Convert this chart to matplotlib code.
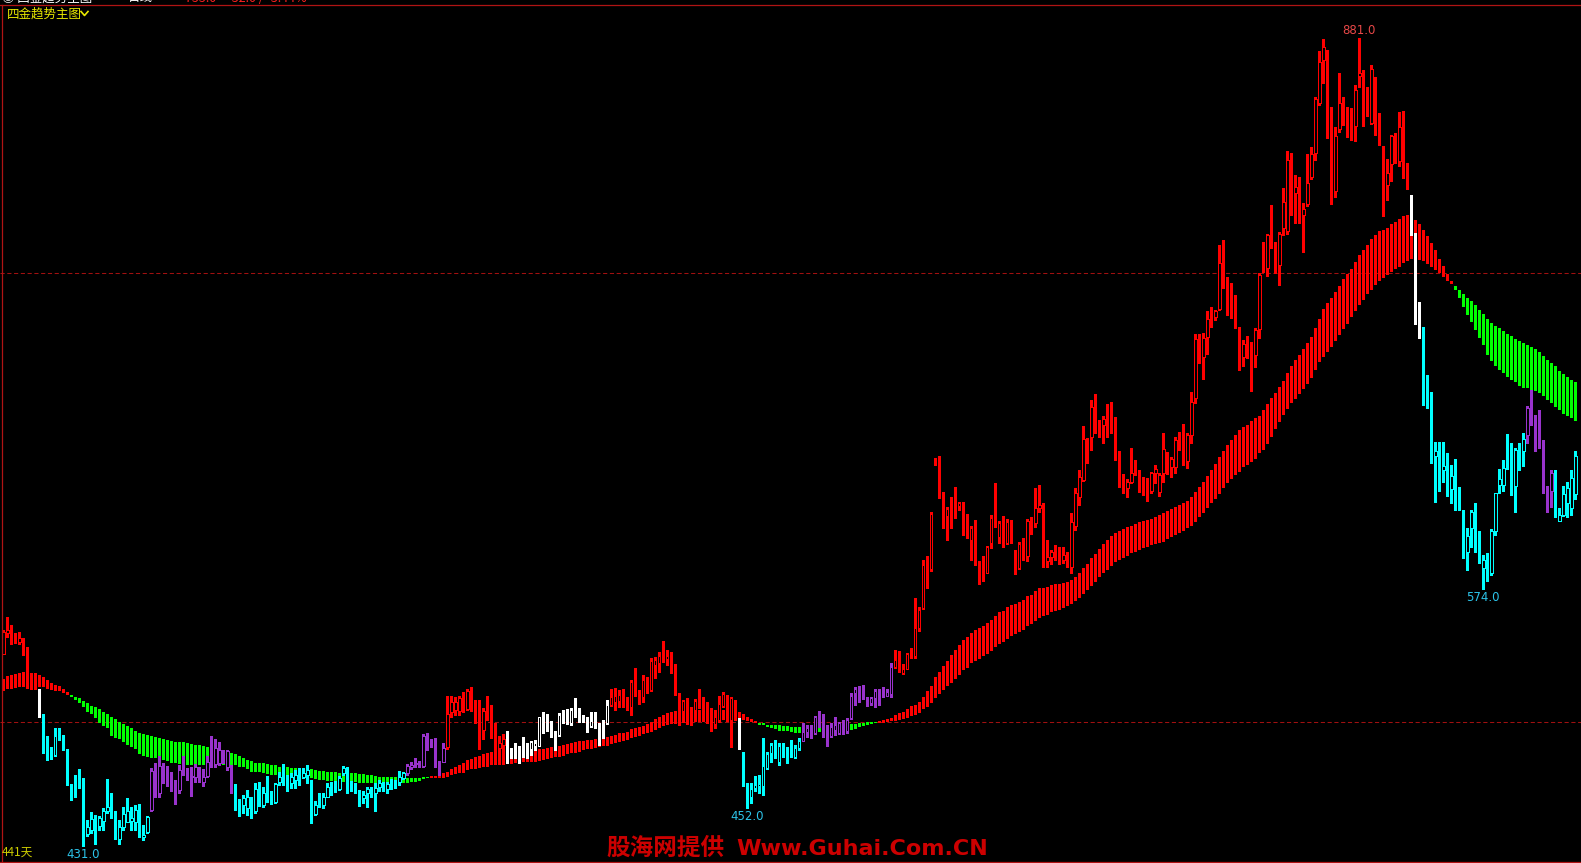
import numpy as np
import matplotlib
matplotlib.use("Agg")
import matplotlib.pyplot as plt
from matplotlib.lines import Line2D

# ---------------- data (price units, one entry per trading day) ----------------
opens = [
 537.6, 549.7, 551.2, 548.4, 544.7, 544.7, 540.1, 524.3, 521.5, 517.2,
 500.5, 489.4, 481.0, 481.6, 492.7, 492.2, 484.4, 465.4, 464.5, 467.7,
 465.4, 437.6, 439.8, 445.4, 442.1, 445.0, 450.6, 454.3, 449.1, 434.6,
 441.7, 444.1, 444.7, 444.3, 451.0, 435.6, 438.9, 451.0, 472.7, 460.2,
 472.1, 469.0, 466.6, 464.3, 462.1, 474.0, 472.9, 469.0, 469.5, 473.6,
 466.6, 469.9, 486.6, 476.6, 477.3, 482.9, 475.1, 475.5, 462.1, 456.5,
 453.8, 451.9, 457.5, 450.6, 462.1, 453.9, 460.8, 458.8, 455.1, 466.7,
 469.5, 468.0, 466.1, 467.6, 471.3, 469.4, 470.4, 467.6, 448.6, 454.0,
 453.9, 458.3, 464.3, 462.4, 462.4, 471.3, 474.4, 464.6, 464.2, 460.2,
 457.6, 460.2, 462.8, 460.2, 463.5, 465.7, 462.4, 465.4, 465.0, 466.7,
 468.5, 471.3, 475.0, 476.7, 476.9, 475.4, 493.6, 489.6, 489.3, 477.0,
 477.8, 486.1, 505.6, 506.6, 506.2, 513.6, 506.9, 517.1, 508.8, 503.8,
 495.4, 507.9, 508.4, 493.9, 485.2, 487.1, 490.8, 485.2, 484.3, 485.0,
 486.1, 485.4, 484.7, 486.5, 486.5, 502.1, 498.8, 498.0, 492.6, 492.6,
 504.3, 502.5, 499.2, 507.5, 504.4, 502.7, 501.0, 497.7, 500.5, 497.7,
 498.8, 499.5, 509.4, 511.2, 511.8, 515.5, 509.4, 508.1, 523.3, 514.9,
 513.6, 524.0, 517.7, 531.6, 532.6, 537.2, 535.0, 538.9, 531.1, 515.5,
 506.2, 512.5, 507.5, 506.6, 512.5, 512.2, 508.8, 506.6, 498.8, 501.0,
 508.8, 514.4, 501.0, 511.2, 501.4, 483.0, 458.3, 458.0, 462.9, 464.2,
 464.2, 474.1, 482.8, 488.9, 477.8, 485.8, 483.9, 484.3, 480.6, 485.2,
 489.5, 494.5, 496.4, 493.9, 502.8, 503.2, 497.7, 492.1, 495.4, 493.9,
 500.4, 495.0, 501.9, 516.2, 518.6, 516.4, 512.5, 510.3, 513.0, 517.7,
 514.9, 514.3, 515.6, 530.8, 534.5, 527.1, 529.7, 538.2, 536.4, 552.1,
 563.3, 590.6, 585.0, 645.9, 641.2, 625.8, 614.7, 619.0, 618.6, 620.3,
 620.3, 610.2, 601.3, 609.1, 587.9, 583.7, 583.1, 599.8, 616.5, 603.2,
 610.6, 599.5, 611.9, 592.4, 585.5, 600.8, 592.4, 611.5, 610.6, 619.0,
 621.7, 589.8, 592.0, 598.0, 595.7, 590.2, 593.0, 586.5, 609.1, 625.4,
 634.7, 656.1, 658.8, 677.0, 667.2, 665.3, 674.1, 672.4, 664.8, 648.1,
 636.9, 630.1, 633.8, 640.7, 639.4, 630.1, 628.6, 628.8, 638.8, 628.2,
 638.8, 649.9, 641.8, 642.1, 656.1, 651.8, 645.5, 659.8, 680.2, 712.0,
 703.4, 714.2, 725.0, 725.7, 729.8, 756.7, 747.0, 743.3, 729.4, 718.6,
 703.4, 710.9, 710.9, 704.3, 718.6, 757.2, 752.6, 776.2, 766.5, 754.4,
 774.9, 773.6, 810.1, 794.4, 797.1, 782.3, 788.4, 803.3, 817.0, 844.8,
 868.6, 874.2, 836.7, 795.8, 830.0, 846.7, 841.7, 831.9, 831.9, 859.6,
 851.9, 849.7, 833.7, 858.4, 827.4, 819.4, 799.0, 810.7, 825.0, 812.5,
 829.6, 809.0, 790.7, 757.8, 723.3, 710.8, 683.7, 679.7, 648.1, 650.9,
 640.0, 641.3, 629.6, 639.0, 628.4, 617.5, 594.8, 607.8, 613.4, 598.0,
 585.6, 590.2, 582.8, 606.0, 632.0, 632.0, 645.3, 644.0, 631.4, 651.8,
 651.1, 659.8, 682.1, 666.9, 659.8, 653.7, 627.7, 628.3, 638.5, 612.1,
 615.3, 621.8, 619.0, 627.0]

highs = [
 551.0, 558.6, 554.0, 549.3, 549.9, 546.6, 541.9, 526.1, 522.4, 518.2,
 504.4, 492.2, 486.2, 496.4, 496.4, 492.7, 484.9, 465.4, 470.5, 473.8,
 468.6, 445.4, 450.0, 448.2, 447.3, 451.9, 468.2, 460.6, 450.4, 445.4,
 452.4, 457.5, 452.8, 453.6, 454.3, 442.6, 447.6, 474.2, 477.3, 481.0,
 477.3, 475.5, 471.8, 467.7, 476.0, 480.7, 474.2, 475.1, 476.6, 475.1,
 473.6, 480.7, 492.2, 490.3, 488.5, 484.4, 484.4, 476.0, 465.4, 456.9,
 459.3, 462.1, 458.0, 466.2, 466.7, 463.6, 469.9, 461.2, 465.8, 471.8,
 476.6, 470.5, 471.3, 473.2, 474.1, 474.1, 475.9, 467.6, 456.1, 460.5,
 460.2, 465.7, 466.6, 467.2, 469.8, 475.4, 475.0, 467.2, 465.7, 462.0,
 461.6, 463.9, 463.9, 466.1, 467.6, 466.6, 466.6, 468.0, 467.6, 472.6,
 472.2, 476.5, 477.8, 479.8, 478.2, 493.2, 493.9, 490.6, 490.8, 478.2,
 488.4, 514.4, 514.4, 514.0, 514.4, 516.6, 518.1, 519.2, 512.1, 512.1,
 507.5, 514.4, 509.3, 499.5, 492.1, 493.2, 495.0, 485.6, 488.4, 486.5,
 491.3, 488.0, 489.5, 489.9, 502.8, 505.6, 504.3, 500.6, 495.0, 505.1,
 506.6, 506.9, 507.9, 513.1, 507.5, 503.8, 502.9, 505.7, 505.7, 499.2,
 501.0, 512.1, 518.1, 518.6, 517.7, 518.1, 514.0, 523.3, 529.8, 517.7,
 526.1, 525.1, 535.4, 536.3, 539.1, 545.2, 540.0, 539.1, 532.2, 515.9,
 512.2, 513.1, 508.1, 512.5, 518.3, 514.0, 511.2, 507.5, 503.8, 514.4,
 516.8, 514.9, 514.0, 512.1, 502.0, 483.4, 466.1, 465.7, 469.8, 470.4,
 490.8, 483.4, 488.0, 489.9, 488.0, 488.0, 485.8, 489.9, 487.1, 490.8,
 499.1, 498.2, 498.2, 503.2, 506.2, 504.3, 498.2, 499.1, 502.5, 500.1,
 501.0, 501.9, 515.8, 519.6, 519.9, 520.5, 513.6, 514.0, 518.1, 518.1,
 519.2, 518.1, 532.6, 540.1, 539.5, 532.3, 538.2, 541.0, 568.8, 564.2,
 590.2, 592.4, 617.1, 646.8, 648.1, 628.2, 619.9, 625.4, 631.0, 622.7,
 622.7, 615.8, 609.1, 612.5, 589.8, 592.4, 598.0, 615.2, 633.2, 612.1,
 614.7, 612.8, 612.5, 595.7, 600.4, 602.2, 612.8, 613.9, 630.1, 631.9,
 622.1, 601.3, 595.7, 598.5, 597.2, 597.2, 594.8, 616.2, 630.1, 640.3,
 664.8, 657.9, 679.3, 682.6, 668.1, 670.4, 677.0, 678.3, 669.6, 651.1,
 638.1, 635.1, 652.4, 645.9, 640.3, 636.6, 635.6, 639.4, 643.1, 638.4,
 660.7, 650.5, 647.7, 658.8, 661.6, 665.9, 660.7, 683.9, 716.0, 716.0,
 716.4, 729.0, 730.9, 729.4, 765.6, 768.4, 747.6, 744.2, 737.7, 720.1,
 712.7, 714.9, 711.8, 719.2, 749.8, 767.4, 771.7, 787.9, 767.4, 773.0,
 797.1, 818.1, 816.6, 804.6, 803.6, 789.2, 816.3, 820.3, 848.2, 873.8,
 880.1, 874.2, 842.6, 831.5, 861.2, 848.2, 842.6, 841.7, 854.7, 881.0,
 863.0, 853.7, 865.8, 859.3, 838.9, 820.7, 813.3, 826.8, 827.8, 839.8,
 840.1, 811.0, 793.5, 772.1, 733.7, 719.8, 693.0, 683.7, 655.9, 655.9,
 655.9, 649.6, 642.9, 646.2, 630.7, 618.1, 607.8, 618.1, 621.8, 606.0,
 593.0, 593.9, 607.3, 627.7, 640.7, 645.9, 660.4, 655.2, 652.4, 655.2,
 660.7, 676.0, 684.9, 671.0, 673.7, 657.0, 631.4, 640.3, 640.3, 619.0,
 631.4, 633.8, 640.0, 651.0]

lows = [
 537.6, 547.1, 543.2, 543.7, 543.2, 537.3, 518.7, 518.2, 518.5, 502.9,
 482.9, 478.8, 479.2, 480.7, 490.0, 484.4, 464.9, 456.5, 458.4, 463.0,
 431.0, 436.5, 438.0, 432.0, 439.5, 439.8, 449.1, 446.3, 434.6, 432.0,
 439.8, 444.1, 439.8, 439.8, 435.6, 434.3, 438.3, 450.6, 458.4, 458.4,
 465.8, 464.0, 461.2, 454.3, 460.2, 470.5, 467.7, 458.8, 466.7, 466.7,
 464.0, 469.2, 475.1, 475.1, 476.0, 477.0, 473.2, 460.6, 451.0, 447.6,
 449.1, 448.2, 446.3, 449.1, 453.2, 452.8, 455.6, 454.3, 454.7, 464.9,
 464.9, 461.7, 462.9, 462.9, 464.8, 468.5, 466.1, 443.5, 448.1, 452.7,
 451.8, 457.9, 459.2, 460.9, 462.0, 470.4, 460.5, 461.6, 460.2, 453.1,
 454.9, 452.7, 458.3, 450.5, 461.6, 461.6, 460.2, 462.4, 462.9, 465.0,
 468.0, 470.4, 473.5, 475.0, 474.6, 474.6, 484.3, 486.1, 474.6, 470.4,
 477.6, 484.7, 502.8, 503.8, 503.8, 505.6, 506.6, 506.2, 499.5, 484.7,
 490.6, 501.0, 490.8, 482.8, 483.4, 483.4, 477.2, 480.0, 479.6, 476.9,
 480.6, 479.6, 481.5, 484.3, 486.5, 493.9, 495.0, 491.3, 484.3, 492.1,
 499.5, 498.8, 498.2, 502.9, 500.1, 500.1, 494.5, 496.9, 496.4, 487.1,
 490.8, 498.8, 508.8, 506.6, 508.1, 508.1, 506.6, 503.8, 514.4, 509.9,
 511.2, 515.9, 517.2, 524.2, 527.9, 533.5, 531.6, 527.0, 514.9, 498.2,
 501.0, 498.8, 498.2, 501.0, 507.5, 501.0, 499.5, 495.1, 496.4, 500.1,
 508.1, 500.6, 486.2, 501.0, 484.9, 464.5, 452.0, 454.6, 461.6, 460.2,
 459.2, 473.5, 477.8, 479.6, 475.9, 480.6, 477.2, 480.6, 479.6, 484.3,
 489.5, 491.7, 490.8, 493.2, 497.3, 491.7, 486.5, 491.7, 492.6, 493.2,
 493.2, 493.6, 501.4, 509.3, 511.2, 512.5, 508.8, 509.3, 508.4, 509.3,
 513.6, 514.3, 514.1, 529.9, 528.0, 526.7, 529.3, 535.4, 535.4, 550.8,
 562.7, 574.4, 584.2, 643.1, 624.5, 607.8, 601.3, 607.8, 613.4, 618.0,
 604.1, 602.2, 590.2, 587.4, 576.8, 578.7, 582.8, 596.7, 608.4, 599.8,
 597.6, 599.1, 599.8, 582.4, 585.0, 590.2, 589.3, 604.7, 608.4, 617.1,
 586.1, 586.5, 588.0, 590.2, 588.0, 588.3, 586.5, 582.8, 606.9, 620.8,
 634.4, 644.0, 651.4, 661.1, 658.8, 655.5, 658.8, 660.7, 645.9, 630.6,
 627.7, 625.4, 632.9, 637.5, 628.2, 626.4, 623.2, 627.3, 632.9, 625.8,
 633.8, 638.1, 636.2, 638.8, 651.4, 643.1, 641.2, 655.5, 677.8, 700.0,
 690.8, 704.9, 719.7, 723.8, 729.4, 741.5, 726.6, 724.8, 719.2, 696.0,
 698.2, 702.5, 684.5, 697.8, 713.6, 750.7, 748.3, 763.7, 749.8, 743.3,
 771.2, 771.7, 782.3, 777.7, 777.7, 761.9, 787.3, 802.1, 812.9, 843.5,
 855.6, 825.0, 788.4, 792.5, 828.7, 832.4, 825.5, 824.0, 823.7, 853.7,
 831.9, 837.4, 833.0, 826.8, 821.3, 781.7, 790.6, 801.4, 811.4, 809.6,
 803.0, 796.5, 771.2, 721.6, 713.5, 676.5, 674.8, 644.4, 622.7, 628.3,
 633.8, 625.5, 622.1, 617.7, 618.1, 591.1, 584.6, 597.1, 594.8, 588.7,
 574.0, 578.2, 581.9, 604.1, 627.7, 628.3, 640.7, 626.4, 617.1, 640.3,
 642.6, 655.2, 665.4, 651.1, 652.4, 627.7, 617.1, 619.9, 614.0, 611.6,
 614.7, 614.3, 615.0, 624.0]

closes = [
 550.3, 551.2, 548.0, 545.3, 546.6, 541.0, 519.3, 519.6, 519.3, 502.9,
 485.7, 480.7, 480.1, 492.2, 491.8, 484.9, 464.9, 461.5, 464.0, 466.6,
 439.5, 441.3, 446.0, 442.1, 446.5, 450.6, 452.5, 449.1, 435.2, 441.3,
 448.7, 450.4, 446.5, 451.0, 435.6, 437.1, 447.1, 472.7, 459.3, 475.5,
 468.4, 466.2, 464.5, 459.3, 473.2, 472.5, 469.9, 469.9, 475.1, 469.0,
 469.5, 477.9, 476.0, 485.3, 484.4, 479.2, 484.0, 462.1, 453.8, 454.3,
 457.6, 458.4, 451.4, 462.5, 453.8, 460.6, 458.4, 454.7, 465.4, 469.1,
 466.7, 464.9, 469.1, 470.4, 469.4, 471.3, 473.2, 450.0, 453.5, 453.7,
 458.3, 463.5, 462.4, 461.1, 468.5, 474.4, 463.5, 463.7, 462.0, 456.4,
 459.4, 462.4, 459.0, 463.1, 466.1, 462.0, 465.4, 463.0, 464.2, 469.1,
 471.3, 475.4, 476.1, 477.3, 475.4, 492.1, 488.4, 488.4, 475.9, 475.9,
 485.2, 504.1, 510.8, 511.0, 513.1, 506.6, 517.1, 506.6, 503.8, 494.5,
 506.0, 506.6, 494.5, 485.2, 488.0, 490.2, 483.9, 484.7, 483.7, 483.9,
 485.0, 484.7, 488.9, 488.4, 502.5, 498.0, 497.3, 492.1, 492.1, 503.8,
 501.0, 499.1, 506.6, 504.2, 501.6, 501.2, 496.4, 500.5, 497.3, 495.4,
 497.7, 509.4, 514.0, 514.4, 514.9, 508.8, 507.0, 522.4, 515.5, 512.7,
 523.3, 516.8, 534.1, 534.4, 536.7, 534.8, 536.6, 530.3, 515.5, 498.8,
 511.6, 499.2, 499.2, 511.6, 511.8, 508.1, 500.1, 500.1, 502.9, 509.9,
 515.5, 501.4, 513.1, 501.4, 484.9, 464.5, 457.0, 462.4, 464.8, 465.4,
 475.4, 481.9, 487.1, 480.6, 486.5, 482.8, 483.0, 480.9, 485.2, 489.3,
 494.5, 496.4, 492.6, 502.5, 502.5, 495.4, 491.3, 497.3, 498.2, 499.1,
 493.9, 501.0, 514.4, 518.1, 516.8, 513.1, 509.9, 513.4, 517.1, 514.9,
 514.0, 516.8, 530.4, 534.5, 528.6, 529.3, 537.7, 535.8, 552.1, 562.3,
 587.4, 586.1, 615.8, 644.0, 625.1, 614.3, 618.8, 614.3, 617.6, 622.1,
 609.7, 605.0, 607.8, 587.9, 582.8, 581.3, 597.2, 613.4, 608.7, 610.6,
 598.0, 611.5, 600.4, 584.6, 599.1, 590.6, 611.9, 611.0, 619.0, 620.8,
 586.8, 591.7, 594.6, 591.1, 588.3, 593.0, 586.8, 611.5, 627.3, 636.4,
 657.4, 651.8, 675.5, 666.3, 664.8, 668.5, 668.5, 665.3, 645.9, 634.4,
 631.4, 633.8, 638.8, 639.9, 630.1, 626.4, 627.3, 638.8, 640.7, 637.5,
 651.8, 644.0, 646.2, 657.0, 655.1, 644.9, 659.8, 678.3, 713.0, 704.3,
 713.6, 724.2, 724.2, 728.8, 755.4, 751.3, 742.4, 731.2, 719.7, 700.1,
 710.5, 710.2, 701.9, 718.3, 748.9, 753.1, 771.2, 773.0, 756.3, 771.7,
 789.7, 812.9, 801.8, 797.7, 781.4, 785.4, 800.3, 816.3, 846.7, 867.7,
 875.6, 834.8, 796.6, 826.3, 844.5, 843.5, 826.8, 831.5, 851.9, 861.6,
 848.5, 843.0, 863.4, 827.4, 823.7, 799.9, 805.9, 826.3, 812.9, 831.1,
 806.0, 798.1, 781.8, 721.6, 715.5, 681.5, 678.9, 653.7, 650.9, 636.6,
 642.6, 628.3, 637.0, 625.9, 618.4, 596.7, 603.6, 616.7, 597.1, 588.7,
 590.2, 581.3, 606.4, 627.3, 635.1, 641.3, 644.4, 626.4, 651.5, 651.1,
 657.4, 674.7, 665.9, 659.8, 655.2, 631.0, 626.4, 638.8, 614.3, 615.3,
 627.0, 630.1, 636.0, 648.0]

# trend ribbon (upper / lower band of the indicator)
ribbon_upper = [
 523.9, 525.4, 526.1, 526.7, 527.1, 527.8, 527.4, 527.4, 527.1, 526.1,
 524.8, 523.3, 521.5, 520.6, 520.0, 518.3, 516.7, 515.0, 513.9, 513.5,
 511.7, 510.5, 508.9, 508.1, 507.0, 505.5, 504.4, 502.9, 501.5, 500.1,
 498.9, 497.7, 496.4, 495.1, 493.7, 493.3, 492.5, 492.2, 491.6, 490.9,
 490.3, 489.8, 489.4, 489.0, 488.8, 488.5, 488.1, 487.7, 487.3, 487.0,
 486.6, 486.2, 485.9, 485.5, 485.1, 484.4, 483.4, 482.9, 482.2, 481.0,
 479.7, 478.8, 478.1, 477.3, 477.3, 477.0, 476.6, 476.0, 475.7, 475.1,
 474.7, 474.7, 474.4, 474.4, 474.4, 474.4, 474.1, 473.7, 473.2, 472.8,
 472.6, 472.2, 472.0, 471.9, 471.7, 471.3, 471.3, 471.3, 471.3, 471.1,
 470.7, 470.4, 470.2, 469.8, 469.4, 469.4, 469.2, 469.1, 469.1, 468.9,
 468.7, 468.7, 468.7, 468.9, 468.9, 469.4, 469.4, 469.8, 470.0, 470.4,
 471.3, 472.2, 473.5, 475.0, 475.9, 477.2, 478.7, 479.5, 480.2, 480.9,
 482.1, 482.8, 483.2, 483.2, 483.5, 483.7, 483.7, 483.9, 483.9, 483.9,
 483.9, 483.9, 483.9, 484.3, 484.7, 485.0, 485.4, 485.8, 486.1, 486.5,
 487.2, 487.8, 488.4, 488.8, 489.1, 489.5, 489.9, 489.9, 490.3, 490.4,
 490.8, 491.4, 492.1, 492.7, 493.6, 494.0, 494.5, 495.8, 496.4, 496.9,
 497.7, 498.8, 500.1, 501.4, 502.5, 503.8, 504.7, 505.7, 506.2, 506.6,
 506.6, 506.6, 506.6, 506.6, 506.6, 506.6, 506.6, 506.6, 506.6, 506.6,
 506.6, 506.6, 506.2, 506.2, 505.7, 504.6, 502.9, 501.7, 500.2, 499.5,
 499.1, 498.4, 498.2, 498.2, 498.0, 497.8, 497.7, 497.3, 497.3, 497.3,
 497.3, 497.3, 497.3, 497.7, 498.0, 498.2, 498.2, 498.2, 498.2, 498.2,
 498.2, 498.2, 498.6, 498.9, 499.3, 499.5, 499.7, 499.9, 499.9, 500.5,
 501.1, 501.5, 502.4, 503.9, 504.8, 505.7, 507.0, 508.9, 509.4, 511.3,
 514.1, 516.9, 520.0, 524.9, 528.0, 531.2, 534.1, 537.3, 540.1, 542.9,
 545.3, 547.5, 549.7, 551.2, 552.5, 553.6, 555.3, 556.8, 559.0, 560.9,
 562.0, 564.2, 565.1, 565.7, 567.0, 567.9, 569.8, 570.7, 572.6, 574.8,
 574.8, 575.3, 576.3, 576.8, 576.8, 577.4, 578.1, 579.0, 580.9, 583.1,
 585.9, 588.0, 591.1, 593.5, 596.1, 599.1, 601.3, 603.5, 605.0, 606.5,
 607.3, 608.4, 609.1, 610.2, 611.5, 612.1, 612.4, 613.2, 614.3, 615.2,
 616.2, 617.3, 618.4, 619.9, 620.8, 621.7, 623.2, 625.1, 628.0, 630.6,
 633.8, 637.0, 640.3, 643.6, 647.3, 651.1, 654.2, 657.0, 659.8, 662.6,
 664.4, 665.5, 667.3, 669.0, 670.4, 673.7, 677.1, 680.4, 683.0, 686.3,
 689.9, 694.1, 698.2, 701.6, 704.3, 707.5, 710.8, 714.2, 719.2, 724.2,
 729.8, 733.5, 735.9, 739.4, 742.8, 746.5, 749.4, 752.0, 755.9, 760.0,
 762.8, 765.6, 768.7, 771.0, 773.4, 773.9, 774.9, 777.3, 778.6, 780.1,
 781.8, 782.3, 782.7, 779.5, 777.3, 774.0, 770.6, 766.9, 762.5, 757.8,
 753.9, 749.5, 745.6, 742.8, 740.5, 738.3, 736.1, 734.4, 732.2, 729.4,
 727.2, 724.2, 722.0, 720.5, 719.2, 717.7, 716.0, 714.6, 713.3, 712.2,
 711.0, 709.9, 709.0, 707.7, 706.2, 703.8, 701.6, 700.1, 697.9, 695.4,
 693.8, 692.3, 690.5, 689.0]

ribbon_lower = [
 517.4, 518.2, 518.3, 518.7, 519.3, 519.3, 519.3, 519.3, 518.9, 519.3,
 519.3, 518.3, 517.8, 517.4, 516.9, 516.3, 515.2, 513.9, 512.2, 510.7,
 508.5, 505.7, 504.1, 502.0, 499.6, 497.7, 496.3, 492.2, 490.9, 490.3,
 489.0, 487.2, 486.2, 484.7, 482.0, 480.7, 480.3, 479.9, 479.7, 479.2,
 478.8, 478.1, 477.3, 477.0, 476.6, 476.6, 476.2, 476.2, 475.8, 475.7,
 475.7, 475.7, 475.7, 476.2, 476.2, 476.2, 476.0, 475.8, 475.7, 475.1,
 474.7, 474.0, 472.3, 472.3, 471.8, 471.4, 471.0, 470.5, 470.5, 469.9,
 469.9, 469.5, 469.1, 468.5, 469.4, 469.4, 469.8, 468.5, 468.0, 467.6,
 467.6, 467.2, 467.2, 467.2, 466.8, 466.7, 466.7, 467.2, 466.7, 466.1,
 466.1, 466.1, 465.7, 465.7, 465.4, 465.4, 465.4, 465.4, 465.4, 465.4,
 465.7, 466.1, 466.3, 466.7, 467.2, 467.9, 468.7, 468.9, 468.9, 468.9,
 468.9, 469.4, 470.2, 470.7, 471.3, 471.7, 473.2, 473.5, 473.9, 474.1,
 474.6, 475.0, 475.8, 475.8, 475.9, 475.9, 476.5, 476.5, 476.9, 477.2,
 477.6, 477.6, 477.8, 477.8, 478.3, 478.7, 479.1, 479.6, 480.2, 480.6,
 481.2, 482.0, 482.5, 482.8, 483.4, 484.3, 484.7, 484.9, 485.2, 485.8,
 486.5, 486.5, 487.7, 488.0, 489.0, 489.3, 489.9, 490.8, 491.7, 492.3,
 493.2, 494.0, 494.5, 495.5, 496.4, 497.7, 498.2, 498.8, 498.8, 499.2,
 499.2, 499.5, 499.5, 499.9, 499.9, 500.1, 500.1, 500.1, 500.6, 501.0,
 501.0, 501.0, 501.0, 501.4, 501.8, 501.2, 500.5, 500.1, 499.5, 498.4,
 498.0, 497.3, 496.4, 495.8, 495.1, 495.1, 494.9, 494.5, 493.9, 493.9,
 493.9, 493.9, 493.9, 493.9, 494.3, 494.5, 494.5, 494.5, 494.9, 494.9,
 495.1, 495.1, 495.4, 496.0, 496.9, 497.5, 498.0, 498.6, 499.3, 499.6,
 499.6, 499.8, 500.2, 500.7, 501.1, 501.5, 502.4, 503.3, 503.9, 504.8,
 507.0, 508.5, 510.4, 513.2, 515.6, 517.8, 520.0, 521.9, 523.7, 526.2,
 528.6, 530.0, 532.6, 534.1, 534.9, 536.4, 537.8, 539.7, 541.6, 543.4,
 544.7, 546.0, 547.9, 549.0, 550.3, 551.2, 553.1, 554.6, 556.4, 557.7,
 559.0, 559.6, 560.9, 561.8, 562.3, 563.5, 564.6, 565.7, 567.3, 569.1,
 571.2, 573.5, 575.7, 578.1, 580.5, 582.7, 584.6, 586.8, 589.2, 590.2,
 591.1, 592.4, 593.9, 594.8, 595.7, 597.0, 597.6, 598.5, 599.1, 599.5,
 600.4, 601.7, 603.2, 604.1, 605.4, 606.5, 607.8, 609.3, 611.5, 614.3,
 616.2, 618.9, 621.7, 624.0, 626.9, 630.1, 633.2, 635.1, 637.5, 639.4,
 641.8, 643.1, 644.9, 646.2, 649.6, 651.5, 654.5, 658.5, 663.0, 667.2,
 670.9, 674.1, 677.4, 679.7, 682.6, 685.2, 688.2, 691.4, 696.0, 700.6,
 703.4, 706.2, 709.0, 712.3, 715.5, 718.6, 721.6, 725.3, 729.0, 732.2,
 735.0, 738.3, 740.5, 743.3, 745.7, 747.0, 748.9, 750.5, 752.0, 753.5,
 755.4, 756.7, 757.6, 757.3, 757.3, 756.7, 755.0, 753.2, 751.7, 749.8,
 748.0, 745.6, 743.9, 740.5, 736.1, 731.3, 726.6, 722.9, 718.3, 713.5,
 709.6, 704.4, 701.0, 698.2, 696.0, 694.5, 692.3, 690.1, 689.0, 687.1,
 686.0, 686.0, 684.9, 684.5, 683.0, 681.2, 679.3, 677.8, 675.6, 673.4,
 671.5, 670.4, 669.0, 667.5]

# colour state of each candle / ribbon bar, as (state, number of days)
candle_state_runs = [("red", 9), ("white", 1), ("cyan", 27), ("purple", 21),
                     ("cyan", 43), ("purple", 10), ("red", 15), ("white", 26),
                     ("red", 32), ("white", 1), ("cyan", 15), ("purple", 23),
                     ("red", 129), ("white", 3), ("cyan", 26), ("purple", 7),
                     ("cyan", 6)]
ribbon_state_runs = [("red", 17), ("green", 90), ("red", 82), ("green", 30),
                     ("red", 144), ("green", 31)]

ref_levels = [500, 750]
high_label_days = [339]
low_label_days = [20, 186, 370]
title_text = "四金趋势主图"
period_text = "441天"
watermark_cn = "股海网提供"
watermark_en = "Www.Guhai.Com.CN"

# ---------------- styling ----------------
PALETTE = {"red": "#ff0000", "white": "#ffffff", "cyan": "#00ffff",
           "purple": "#9933cc", "green": "#00ff00"}
CJK = ["Noto Sans CJK SC", "DejaVu Sans"]

W, H = 1581, 863
fig = plt.figure(figsize=(W / 100, H / 100), dpi=100, facecolor="black")
ax = fig.add_axes([0, 0, 1, 1], facecolor="black")
ax.set_axis_off()

o = np.array(opens); h = np.array(highs); l = np.array(lows); c = np.array(closes)
ru = np.array(ribbon_upper); rl = np.array(ribbon_lower)
n = len(c)
x = np.arange(n)

def expand(runs):
    out = []
    for name, k in runs:
        out += [PALETTE[name]] * k
    return np.array(out)

ccol = expand(candle_state_runs)
rcol = expand(ribbon_state_runs)

ax.set_xlim(-0.825, 394.425)
ax.set_ylim(421.38, 902.0)

for lv in ref_levels:
    ax.axhline(lv, color="#a01010", lw=0.75, dashes=(4, 2.5), zorder=1)

# ribbon
ax.bar(x, ru - rl, bottom=rl, width=0.78, color=rcol, linewidth=0,
       antialiased=False, zorder=2)

# wicks
ax.vlines(x, l, h, colors=ccol, linewidths=0.75, antialiased=False, zorder=3)

# bodies
up = c > o
bh = np.maximum(np.abs(c - o), 0.6)
bb = np.minimum(o, c)
ax.bar(x[~up], bh[~up], bottom=bb[~up], width=0.78, color=ccol[~up],
       linewidth=0, antialiased=False, zorder=4)
ax.bar(x[up], bh[up], bottom=bb[up], width=0.6, facecolor="black",
       edgecolor=ccol[up], linewidth=0.7, antialiased=False, zorder=4)

# extreme labels
for d in high_label_days:
    ax.annotate(f"{h[d]:.1f}", (x[d], h[d]), xytext=(0, 0.5),
                textcoords="offset points", ha="center", va="bottom",
                color="#e84848", fontsize=8.5, zorder=6)
for d in low_label_days:
    ax.annotate(f"{l[d]:.1f}", (x[d], l[d]), xytext=(0, -1.5),
                textcoords="offset points", ha="center", va="top",
                color="#2cc4ea", fontsize=8.5, zorder=6)

# ---------------- frame and annotations ----------------
def fx(px):
    return px / W

def fy(py):
    return 1 - py / H

frame_col = "#b01414"
fig.add_artist(Line2D([0, 1], [fy(5), fy(5)], transform=fig.transFigure,
                      color=frame_col, lw=0.9))
fig.add_artist(Line2D([0, 1], [fy(861.5), fy(861.5)], transform=fig.transFigure,
                      color=frame_col, lw=0.9))
fig.add_artist(Line2D([fx(1.5), fx(1.5)], [fy(5), fy(861.5)],
                      transform=fig.transFigure, color=frame_col, lw=0.9))

# header strip above the frame (only the lower edge of its glyphs is visible)
fig.text(fx(2), fy(4.5), "◎ 四金趋势主图", color="white", fontsize=9,
         family=CJK, va="bottom", ha="left")
fig.text(fx(128), fy(4.5), "日线", color="white", fontsize=9,
         family=CJK, va="bottom", ha="left")
fig.text(fx(185), fy(4.5), "755.0    -32.0 / -3.44%", color="#ff2020",
         fontsize=9, family=CJK, va="bottom", ha="left")

fig.text(fx(7), fy(14), title_text, color="#e8e800", fontsize=9,
         family=CJK, va="center", ha="left")
fig.add_artist(Line2D([fx(81), fx(84.5), fx(88)], [fy(11.5), fy(15.5), fy(11.5)],
                      transform=fig.transFigure, color="#e8e800", lw=1.2))

fig.text(fx(1.5), fy(852), period_text, color="#cccc00", fontsize=8.5,
         family=CJK, va="center", ha="left")

fig.text(fx(606), fy(855), watermark_cn, color="#cc0000", fontsize=17,
         fontweight="bold", family=CJK, va="baseline", ha="left")
fig.text(fx(736), fy(855), watermark_en, color="#cc0000", fontsize=16,
         fontweight="bold", family="DejaVu Sans", va="baseline", ha="left")

fig.savefig("out.png", dpi=100, facecolor="black")
